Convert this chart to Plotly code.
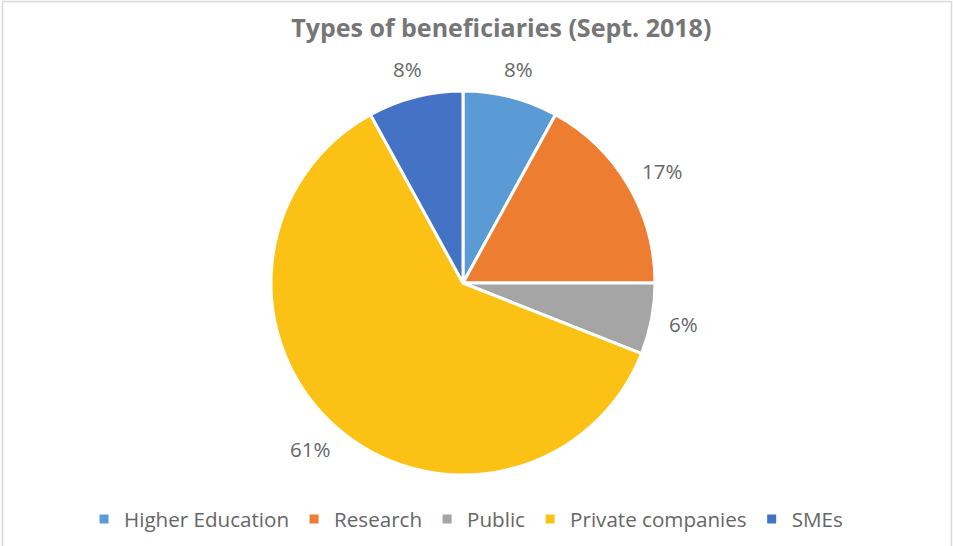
import math
import plotly.graph_objects as go

categories = ["Higher Education", "Research", "Public", "Private companies", "SMEs"]
shares = [8, 17, 6, 61, 8]
colors = ["#5B9BD5", "#ED7D31", "#A5A5A5", "#FBC115", "#4472C4"]

W, H = 953, 546
cx, cy, r = 463, 283, 192          # pie centre and radius in pixels
label_gap = 18                      # distance between slice edge and its label
label_size = 20.5
label_color = "#666666"
font = "Open Sans"

fig = go.Figure(
    go.Pie(
        labels=categories,
        values=shares,
        sort=False,
        direction="clockwise",
        rotation=0,
        marker=dict(colors=colors, line=dict(color="white", width=3)),
        textinfo="none",
        hoverinfo="label+percent",
        domain=dict(x=[(cx - r) / W, (cx + r) / W], y=[1 - (cy + r) / H, 1 - (cy - r) / H]),
    )
)

# Percentage labels placed just outside each slice, at its mid angle
total = sum(shares)
annotations = []
cum = 0
for v in shares:
    mid = (cum + v / 2) / total * 2 * math.pi
    cum += v
    ux, uy = math.sin(mid), math.cos(mid)          # uy points up
    text = f"{v}%"
    w = 12.3 * (len(text) - 1) + 17.5
    h = 22
    d = r + label_gap
    annotations.append(dict(
        x=(cx + d * ux) / W, y=1 - (cy - d * uy) / H,
        xref="paper", yref="paper",
        xanchor="center", yanchor="middle",
        xshift=ux * w / 2, yshift=uy * h / 2,
        text=text, showarrow=False,
        font=dict(family=font, size=label_size, color=label_color),
    ))

fig.update_layout(
    width=W,
    height=H,
    margin=dict(l=0, r=0, t=0, b=0),
    paper_bgcolor="white",
    title=dict(
        text="<b>Types of beneficiaries (Sept. 2018)</b>",
        x=0.526,
        xanchor="center",
        y=1 - 28 / H,
        yanchor="middle",
        font=dict(family=font, size=25, color="#767676"),
    ),
    legend=dict(
        orientation="h",
        x=0.489,
        xanchor="center",
        y=1 - 519 / H,
        yanchor="middle",
        font=dict(family=font, size=20.6, color=label_color),
        itemwidth=30,
        traceorder="normal",
    ),
    annotations=annotations,
    shapes=[
        dict(
            type="rect", xref="paper", yref="paper",
            x0=2.5 / W, x1=951.5 / W, y0=-0.05, y1=1 - 1.5 / H,
            line=dict(color="#D9D9D9", width=1.5), fillcolor="rgba(0,0,0,0)",
        )
    ],
)

fig.write_html("out.html")
